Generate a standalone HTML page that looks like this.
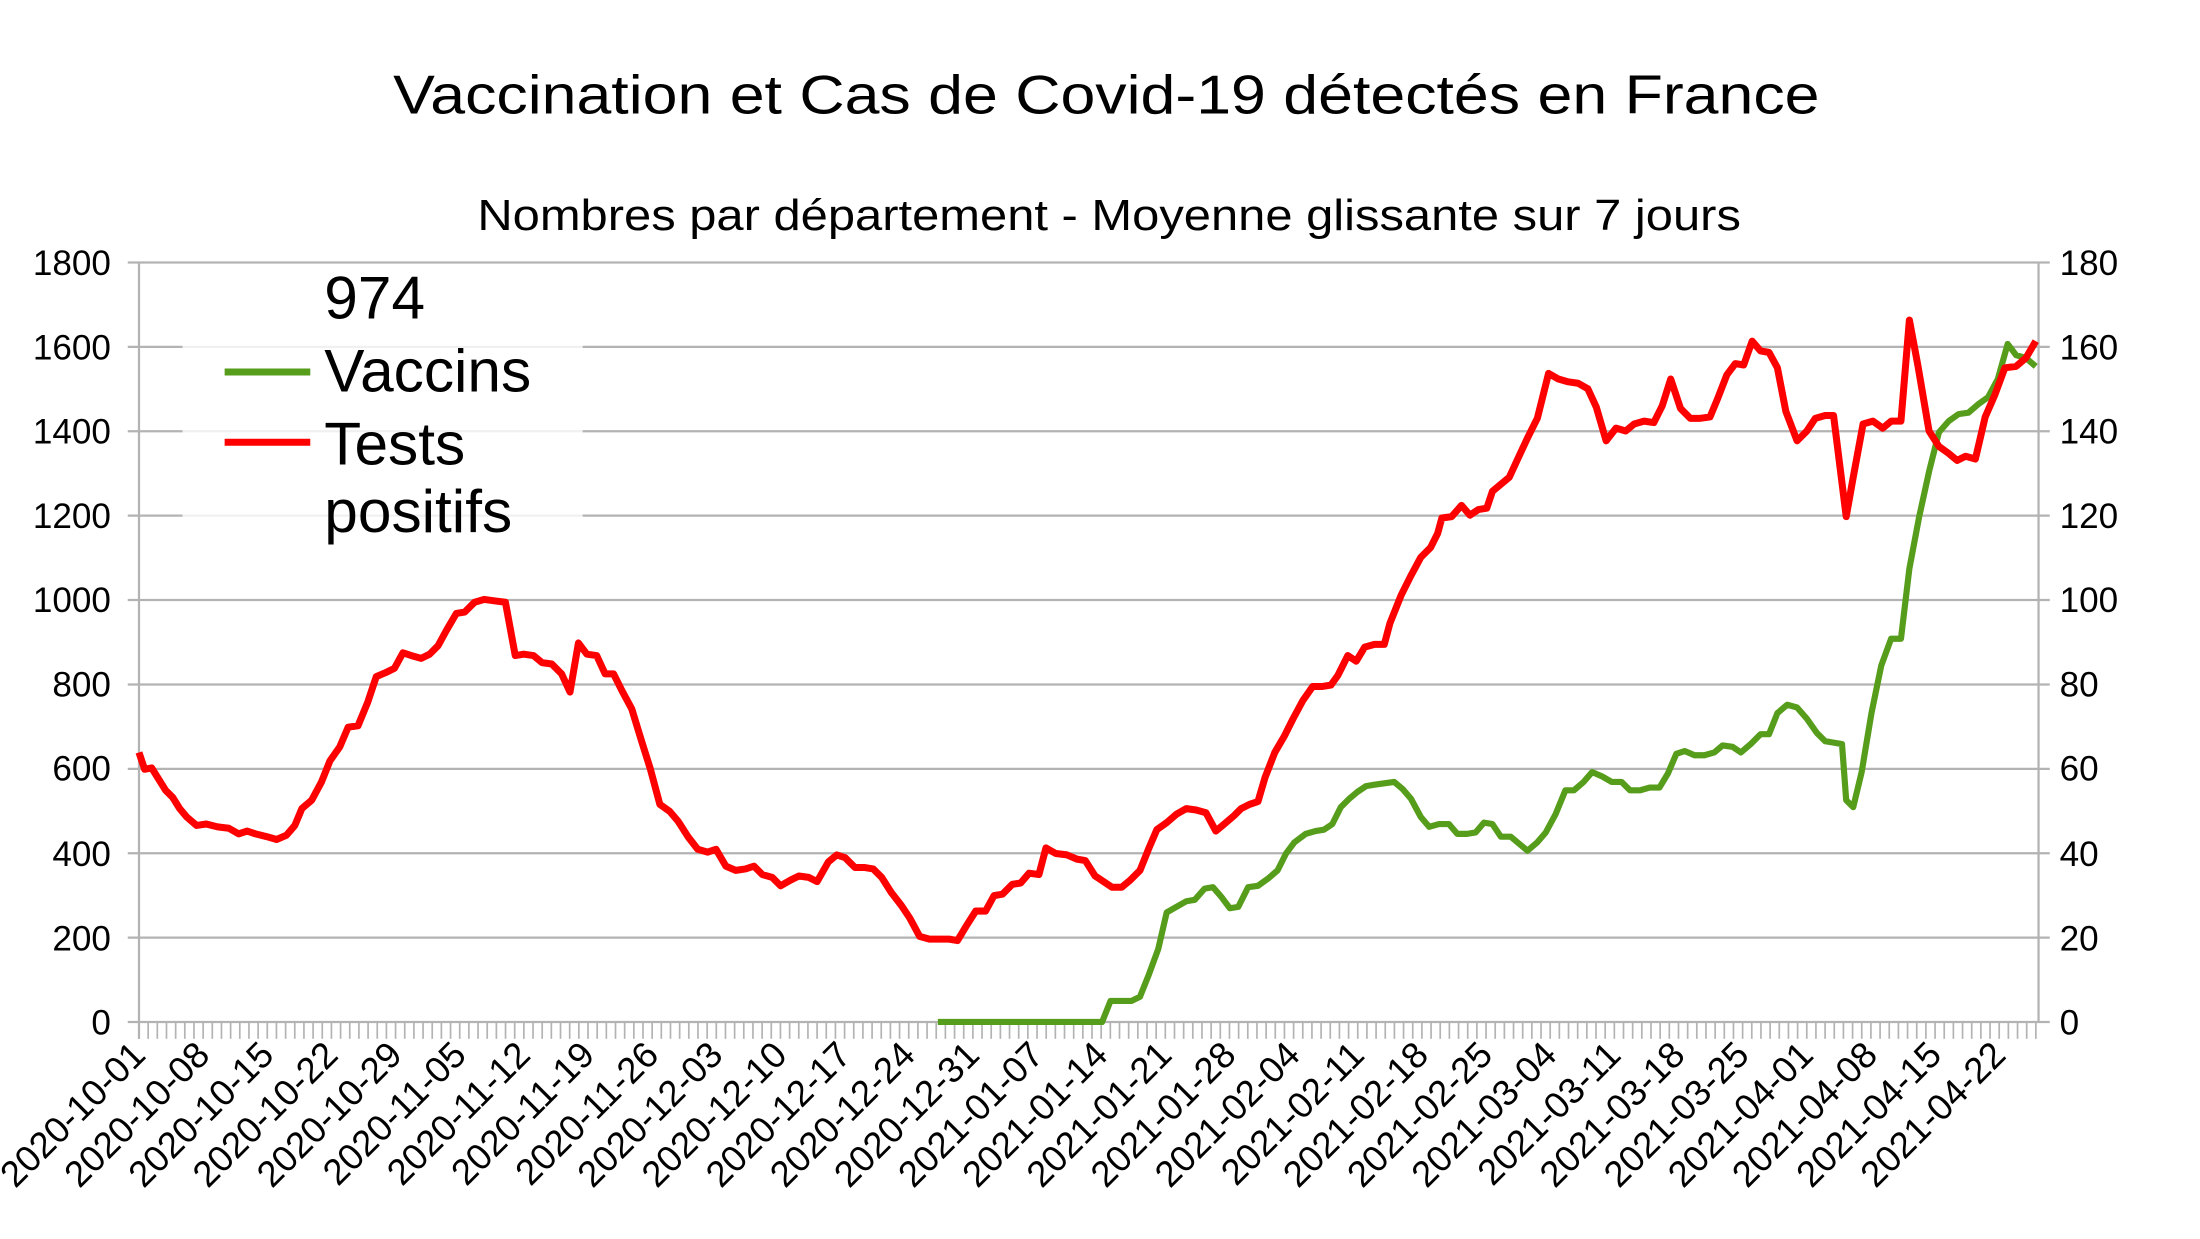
<!DOCTYPE html>
<html><head><meta charset="utf-8"><style>
html,body{margin:0;padding:0;background:#fff;}
svg{display:block;}
text{font-family:"Liberation Sans",sans-serif;fill:#000;}
</style></head><body>
<svg width="2200" height="1239" viewBox="0 0 1567 882.6" preserveAspectRatio="none" xmlns="http://www.w3.org/2000/svg">
<rect width="1567" height="883" fill="#fff"/>
<text x="788" y="81" font-size="39" text-anchor="middle" textLength="1016" lengthAdjust="spacingAndGlyphs">Vaccination et Cas de Covid-19 détectés en France</text>
<text x="790" y="164" font-size="31" text-anchor="middle" textLength="900" lengthAdjust="spacingAndGlyphs">Nombres par département - Moyenne glissante sur 7 jours</text>
<g stroke="#b3b3b3" stroke-width="1.6">
<line x1="91" x2="1460" y1="187" y2="187"/><line x1="91" x2="1460" y1="247.1" y2="247.1"/><line x1="91" x2="1460" y1="307.2" y2="307.2"/><line x1="91" x2="1460" y1="367.3" y2="367.3"/><line x1="91" x2="1460" y1="427.4" y2="427.4"/><line x1="91" x2="1460" y1="487.6" y2="487.6"/><line x1="91" x2="1460" y1="547.7" y2="547.7"/><line x1="91" x2="1460" y1="607.8" y2="607.8"/><line x1="91" x2="1460" y1="667.9" y2="667.9"/><line x1="91" x2="1460" y1="728" y2="728"/>
<line x1="99" x2="99" y1="187" y2="740"/><line x1="1452" x2="1452" y1="187" y2="728"/>
</g>
<g id="ticks" stroke="#b3b3b3" stroke-width="1.2"></g>
<g font-size="25" text-anchor="end">
<text x="79" y="196">1800</text><text x="79" y="256">1600</text><text x="79" y="316">1400</text><text x="79" y="376">1200</text><text x="79" y="436">1000</text><text x="79" y="496">800</text><text x="79" y="556">600</text><text x="79" y="617">400</text><text x="79" y="677">200</text><text x="79" y="737">0</text>
</g>
<g font-size="25" text-anchor="start">
<text x="1467" y="196">180</text><text x="1467" y="256">160</text><text x="1467" y="316">140</text><text x="1467" y="376">120</text><text x="1467" y="436">100</text><text x="1467" y="496">80</text><text x="1467" y="556">60</text><text x="1467" y="617">40</text><text x="1467" y="677">20</text><text x="1467" y="737">0</text>
</g>
<g id="xl" font-size="26" text-anchor="end"></g>
<rect x="130" y="189" width="285" height="194" fill="#fff" opacity="0.8"/>
<g font-size="43">
<text x="231" y="227">974</text><text x="231" y="279">Vaccins</text><text x="231" y="331">Tests</text><text x="231" y="379">positifs</text>
</g>
<line x1="160" x2="221" y1="265" y2="265" stroke="#579d1c" stroke-width="5"/>
<line x1="160" x2="221" y1="315" y2="315" stroke="#ff0000" stroke-width="5"/>
<polyline fill="none" stroke="#579d1c" stroke-width="4.4" stroke-linejoin="round" points="668,728 785,728 791,713 799,713 806,713 812,710 818,695 825,676 831,650 838,646 845,642 851,641 858,633 864,632 870,639 876,647 882,646 889,632 896,631 903,626 910,620 916,608 922,600 930,594 937,592 943,591 949,587 955,575 961,569 967,564 973,560 979,559 986,558 993,557 999,562 1005,569 1012,582 1018,589 1025,587 1032,587 1038,594 1045,594 1051,593 1057,586 1063,587 1069,596 1076,596 1082,601 1088,606 1095,600 1101,593 1108,580 1115,563 1121,563 1128,557 1134,550 1141,553 1148,557 1155,557 1161,563 1168,563 1175,561 1182,561 1188,551 1194,537 1200,535 1207,538 1214,538 1221,536 1227,531 1234,532 1240,536 1247,530 1254,523 1260,523 1266,508 1273,502 1280,504 1287,512 1294,522 1300,528 1306,529 1312,530 1315,570 1320,575 1326,550 1333,508 1340,474 1347,455 1354,455 1360,405 1367,368 1374,336 1381,308 1388,300 1395,295 1402,294 1409,288 1416,283 1423,270 1430,245 1436,253 1443,255 1450,261"/>
<polyline fill="none" stroke="#ff0000" stroke-width="5" stroke-linejoin="round" points="99,536 103,548 108,547 113,555 118,563 123,568 128,576 133,582 140,588 147,587 155,589 163,590 170,594 176,592 182,594 190,596 197,598 204,595 210,588 215,576 222,570 229,557 235,542 242,532 248,518 255,517 262,500 268,482 275,479 281,476 287,465 293,467 300,469 306,466 312,460 318,449 325,437 331,436 338,429 345,427 352,428 360,429 367,467 373,466 380,467 386,472 393,473 400,480 406,493 412,458 418,466 425,467 431,480 437,480 443,492 450,505 457,528 463,547 470,573 477,578 483,585 490,596 497,605 504,607 510,605 517,617 524,620 531,619 537,617 543,623 550,625 556,631 563,627 569,624 576,625 582,628 590,614 596,609 602,611 609,618 616,618 622,619 628,625 635,636 642,645 648,654 655,667 662,669 669,669 676,669 682,670 688,660 695,649 702,649 708,638 714,637 721,630 727,629 733,622 740,623 745,604 752,608 760,609 767,612 773,613 780,624 786,628 792,632 799,632 805,627 812,620 818,605 824,591 831,586 838,580 845,576 852,577 859,579 866,592 872,587 879,581 884,576 890,573 896,571 901,554 908,536 915,524 921,512 928,499 935,489 942,489 948,488 953,481 960,467 966,471 972,461 979,459 986,459 990,444 998,424 1005,410 1012,397 1019,390 1024,380 1027,369 1034,368 1041,360 1047,367 1053,363 1059,362 1063,350 1069,345 1075,340 1081,327 1088,312 1095,298 1103,266 1110,270 1117,272 1124,273 1131,277 1137,290 1144,314 1151,305 1158,307 1164,302 1171,300 1178,301 1184,289 1190,270 1197,291 1204,298 1211,298 1218,297 1223,285 1230,267 1236,259 1242,260 1248,243 1254,250 1260,251 1266,262 1272,293 1280,314 1287,307 1293,298 1300,296 1306,296 1315,368 1320,340 1327,302 1334,300 1341,305 1347,300 1354,300 1360,228 1366,260 1374,307 1381,318 1388,323 1394,328 1400,325 1407,327 1414,297 1421,281 1428,262 1436,261 1443,255 1450,243"/>
<script>
(function(){
var ns="http://www.w3.org/2000/svg",t=document.getElementById("ticks"),xl=document.getElementById("xl");
var d=6.527;
for(var i=0;i<=207;i++){var x=99+i*d;var l=document.createElementNS(ns,"line");l.setAttribute("x1",x);l.setAttribute("x2",x);l.setAttribute("y1",728);l.setAttribute("y2",740);t.appendChild(l);}
var s=new Date(Date.UTC(2020,9,1));
for(var k=0;k<=29;k++){var dt=new Date(s.getTime()+k*7*86400000);var str=dt.toISOString().slice(0,10);var x=99+k*7*d+6;
var e=document.createElementNS(ns,"text");e.setAttribute("transform","translate("+x+",753) rotate(-45)");e.textContent=str;xl.appendChild(e);}
})();
</script>
</svg>
</body></html>
